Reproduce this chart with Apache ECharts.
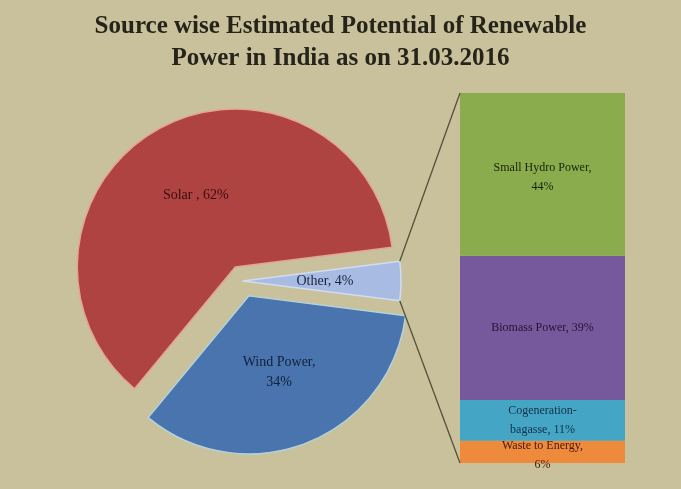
<!DOCTYPE html>
<html>
<head>
<meta charset="utf-8">
<script src="https://cdn.jsdelivr.net/npm/echarts@6/dist/echarts.min.js"></script>
<style>
  html, body { margin: 0; padding: 0; background: #c9c19b; }
  #chart { width: 681px; height: 489px; }
</style>
</head>
<body>
<div id="chart"></div>
<script>
// Pie: main sources, in drawing order (clockwise from the start angle)
const pieNames = ['Solar', 'Other', 'Wind Power'];
const pieLabels = ['Solar , ', 'Other, ', 'Wind Power,\n'];
const pieValues = [62, 4, 34];
const pieColors = ['#ae4342', '#a8bbe3', '#4a74ae'];
const pieBorders = ['#e3a596', '#d2dcf0', '#b3d3da'];
const pieExploded = [true, false, true];
const pieLabelColors = ['#3b0e0e', '#17243e', '#10203c'];

// Breakdown of "Other", stacked bottom to top
const barNames = ['Waste to Energy', 'Cogeneration-bagasse', 'Biomass Power', 'Small Hydro Power'];
const barLabels = ['Waste to Energy,\n', 'Cogeneration-\nbagasse, ', 'Biomass Power, ', 'Small Hydro Power,\n'];
const barValues = [6, 11, 39, 44];
const barColors = ['#ee8a3c', '#45a5c4', '#76599c', '#8bac4d'];
const barLabelColors = ['#4a150c', '#12304a', '#221530', '#17230a'];

const titleText = 'Source wise Estimated Potential of Renewable\nPower in India as on 31.03.2016';

// Layout
const pieCenter = [243, 281];
const pieRadius = 158;
const startAngle = 230.4;
const gridBox = { left: 460, top: 93, width: 165, height: 370 };

const chart = echarts.init(document.getElementById('chart'), null, { renderer: 'canvas' });

const pieData = pieNames.map((n, i) => ({
  name: n,
  value: pieValues[i],
  selected: pieExploded[i],
  itemStyle: { color: pieColors[i], borderColor: pieBorders[i], borderWidth: 1.5 },
  label: { color: pieLabelColors[i] }
}));

const barSeries = barNames.map((n, i) => ({
  name: n,
  type: 'bar',
  stack: 'other',
  barWidth: '100%',
  data: [barValues[i]],
  itemStyle: { color: barColors[i] },
  label: {
    show: true,
    position: 'inside',
    fontFamily: 'Liberation Serif',
    fontSize: 12,
    lineHeight: 19,
    color: barLabelColors[i],
    offset: i === 0 ? [0, 3] : (i === 3 ? [0, 3] : [0, 0]),
    formatter: p => barLabels[i] + p.value + '%'
  }
}));

// Corners of the "Other" slice, where the connector lines start
const otherStart = startAngle - 360 * pieValues[0] / 100;
const otherEnd = otherStart - 360 * pieValues[1] / 100;
function rimPoint(angleDeg) {
  const a = angleDeg * Math.PI / 180;
  return [pieCenter[0] + pieRadius * Math.cos(a), pieCenter[1] - pieRadius * Math.sin(a)];
}
const pTop = rimPoint(otherStart);
const pBottom = rimPoint(otherEnd);

chart.setOption({
  animation: false,
  backgroundColor: '#c9c19b',
  title: {
    text: titleText,
    left: 'center',
    top: 6,
    textStyle: {
      fontFamily: 'Liberation Serif',
      fontWeight: 'bold',
      fontSize: 25,
      lineHeight: 32,
      color: '#26231a'
    }
  },
  grid: { left: gridBox.left, top: gridBox.top, width: gridBox.width, height: gridBox.height },
  xAxis: { type: 'category', data: ['Other'], show: false },
  yAxis: { type: 'value', min: 0, max: 100, show: false },
  graphic: [
    { type: 'line', shape: { x1: pTop[0], y1: pTop[1], x2: gridBox.left, y2: gridBox.top },
      style: { stroke: '#55503a', lineWidth: 1.3 }, z: 10 },
    { type: 'line', shape: { x1: pBottom[0], y1: pBottom[1], x2: gridBox.left, y2: gridBox.top + gridBox.height },
      style: { stroke: '#55503a', lineWidth: 1.3 }, z: 10 }
  ],
  series: [
    {
      type: 'pie',
      center: pieCenter,
      radius: pieRadius,
      startAngle: startAngle,
      clockwise: true,
      selectedMode: 'multiple',
      selectedOffset: 16,
      avoidLabelOverlap: false,
      emphasis: { disabled: true },
      label: {
        show: true,
        position: 'inside',
        fontFamily: 'Liberation Serif',
        fontSize: 14,
        lineHeight: 20,
        formatter: p => pieLabels[p.dataIndex] + p.value + '%'
      },
      labelLine: { show: false },
      data: pieData
    },
    ...barSeries
  ]
});
</script>
</body>
</html>
